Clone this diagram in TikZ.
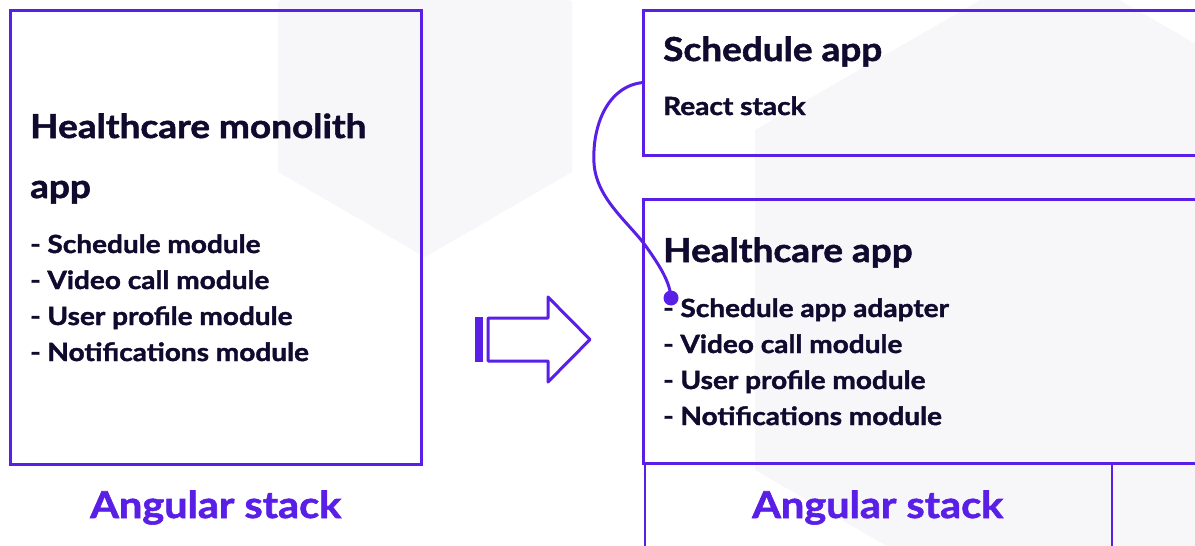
\documentclass[tikz,border=0pt]{standalone}
\usepackage{fontspec}
\setmainfont{Lato}[FakeStretch=1.12, BoldFeatures={FakeBold=1.6}]
\definecolor{purp}{HTML}{5A1FE6}
\definecolor{ink}{HTML}{100B2E}
\definecolor{hexg}{HTML}{F7F7FA}
\tikzset{
  frame/.style={draw=purp, line width=3pt, inner sep=0pt, outer sep=0pt, anchor=north west},
  ttl/.style={font=\bfseries\fontsize{33}{40}\selectfont, text=ink, anchor=base west, inner sep=0pt},
  item/.style={font=\bfseries\fontsize{25}{30}\selectfont, text=ink, anchor=base west, inner sep=0pt},
  stack/.style={font=\bfseries\fontsize{37}{40}\selectfont, text=purp, anchor=base west, inner sep=0pt},
  link/.style={draw=purp, line width=3pt},
  thinline/.style={draw=purp, line width=2pt}
}
\begin{document}
\begin{tikzpicture}[x=1pt,y=-1pt]
\clip (0,0) rectangle (1195,546);
\fill[white] (0,0) rectangle (1195,546);
% background hexagons
\fill[hexg] (425,-83) -- (572,2) -- (572,172) -- (425,257) -- (278,172) -- (278,2) -- cycle;
\fill[hexg] (1050,-40) -- (1345,130) -- (1345,470) -- (1050,640) -- (755,470) -- (755,130) -- cycle;
% left box
\node[frame, minimum width=411pt, minimum height=454pt] (mono) at (10,10) {};
\node[ttl] (monot1) at (30,138) {Healthcare monolith};
\node[ttl] (monot2) at (30,198) {app};
\node[item] (m1) at (30,253) {- Schedule module};
\node[item] (m2) at (30,289) {- Video call module};
\node[item] (m3) at (30,325) {- User profile module};
\node[item] (m4) at (30,361) {- Notifications module};
\node[stack] (stl) at (90,518) {Angular stack};
% arrow
\fill[purp] (475,317) rectangle (483,362);
\draw[purp, line width=3pt, line join=round] (488,318) -- (548,318) -- (548,297) -- (590,339.5) -- (548,382) -- (548,361) -- (488,361) -- cycle;
% right side
\node[frame, minimum width=700pt, minimum height=145pt] (sched) at (643,10) {};
\node[ttl] (schedt) at (663,61) {Schedule app};
\node[item] (react) at (663,115) {React stack};
\node[frame, minimum width=700pt, minimum height=264pt] (health) at (643,199) {};
\node[ttl] (healtht) at (663,262) {Healthcare app};
\node[item] (h1) at (663,317) {- Schedule app adapter};
\node[item] (h2) at (663,353) {- Video call module};
\node[item] (h3) at (663,389) {- User profile module};
\node[item] (h4) at (663,425) {- Notifications module};
\coordinate (colL) at (644.5,560);
\coordinate (colR) at (1112,560);
\draw[thinline] (health.south west -| colL) -- (colL);
\draw[thinline] (health.south west -| colR) -- (colR);
\node[stack] (str) at (752,518) {Angular stack};
% connector
\coordinate (dot) at (671,298);
\draw[link] (sched.west) .. controls (608,86) and (592,125) .. (594,163)
  .. controls (596,198) and (628,222) .. (645,245)
  .. controls (660,266) and (670,282) .. (dot);
\fill[purp] (dot) circle (7.5pt);
\end{tikzpicture}
\end{document}
